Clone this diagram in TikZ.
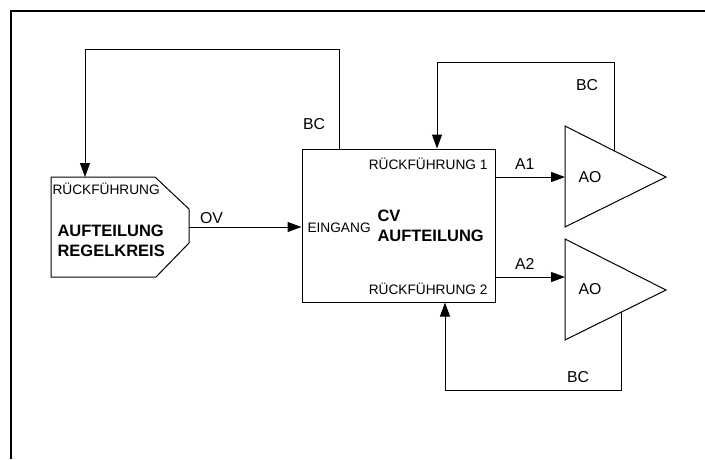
\documentclass[tikz,border=0pt]{standalone}
\usepackage{fontspec}
\setmainfont{Liberation Sans}
\usetikzlibrary{arrows.meta,positioning}

\begin{document}
\begin{tikzpicture}[
  x=1pt,y=-1pt,
  line width=1pt,
  lbl/.style={font=\fontsize{13.7}{15}\selectfont,inner sep=0pt},
  sig/.style={font=\fontsize{15.8}{17}\selectfont,inner sep=0pt},
  title/.style={font=\fontsize{16.5}{20}\selectfont\bfseries,align=left,inner sep=0pt},
  block/.style={draw,minimum width=193pt,minimum height=153pt,inner sep=0pt},
  arrow/.style={-{Triangle[length=14pt,width=10pt]}},
]
\useasboundingbox (0,0) rectangle (705,459);
% frame, open at right and bottom
\draw[line width=1.6pt] (11,459) -- (11,11) -- (705,11);

% split block (left)
\draw (51,177) -- (155,177) -- (189,209) -- (189,243) -- (156,277) -- (51,277) -- cycle;
\coordinate (splin)  at (85,177);
\coordinate (splout) at (189,227);
\node[lbl,anchor=west] (splfb) at (52,189) {RÜCKFÜHRUNG};
\node[title,anchor=west] (spl) at (57,241) {AUFTEILUNG\\REGELKREIS};

% cv split block
\node[block] (cv) at (398.5,225.5) {};
\node[lbl,anchor=west] (ein) at (307,228) {EINGANG};
\node[title,anchor=west] (cvtxt) at (377,226) {CV\\AUFTEILUNG};
\node[lbl,anchor=east] (fb1) at (488,164) {RÜCKFÜHRUNG 1};
\node[lbl,anchor=east] (fb2) at (488,289) {RÜCKFÜHRUNG 2};

% analog outputs
\draw (565,126) -- (666,177) -- (565,227) -- cycle;
\draw (565,239) -- (666,290) -- (565,340) -- cycle;
\coordinate (ao1in) at (565,177);
\coordinate (ao2in) at (565,277);
\coordinate (ao1bc) at (614,150.7);
\coordinate (ao2bc) at (621,312.3);
\node[sig] (ao1) at (590,177) {AO};
\node[sig] (ao2) at (590,289) {AO};

% connectors
\draw[arrow] (splout) -- (splout -| cv.west) node[sig,pos=0.2,above=3pt] (ov) {OV};
\draw[arrow] (cv.north -| 339,0) -- (339,49) -- (splin |- 0,49) -- (splin);
\node[sig] (bc0) at (314,124) {BC};

\draw[arrow] (cv.east |- ao1in) -- (ao1in) node[sig,pos=0.42,above=7pt] (a1) {A1};
\draw[arrow] (cv.east |- ao2in) -- (ao2in) node[sig,pos=0.42,above=7pt] (a2) {A2};

\draw[arrow] (ao1bc) -- (614,62) -- (437,62) -- (437,0 |- cv.north);
\node[sig] (bc1) at (587,85) {BC};
\draw[arrow] (ao2bc) -- (621,390) -- (445,390) -- (445,0 |- cv.south);
\node[sig] (bc2) at (578,377) {BC};
\end{tikzpicture}
\end{document}
